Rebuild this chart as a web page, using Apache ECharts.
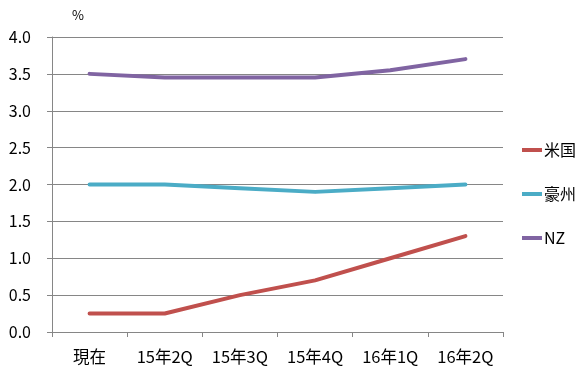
<!DOCTYPE html>
<html><head><meta charset="utf-8">
<script src="https://cdn.jsdelivr.net/npm/echarts@6/dist/echarts.min.js"></script>
<style>html,body{margin:0;padding:0;background:#fff}#c{width:579px;height:369px}</style>
</head><body><div id="c"></div>
<script>
const categories = ['現在','15年2Q','15年3Q','15年4Q','16年1Q','16年2Q'];
const usValues = [0.25, 0.25, 0.5, 0.7, 1.0, 1.3];
const auValues = [2.0, 2.0, 1.95, 1.9, 1.95, 2.0];
const nzValues = [3.5, 3.45, 3.45, 3.45, 3.55, 3.7];
const seriesNames = ['米国','豪州','NZ'];
const colors = ['#C0504D','#4BACC6','#8064A2'];
const FONT = "'Noto Sans CJK JP','Noto Sans',sans-serif";
const chart = echarts.init(document.getElementById('c'), null, {renderer:'canvas'});
const dataSets = [usValues, auValues, nzValues];
chart.setOption({
  animation:false,
  textStyle:{fontFamily:FONT},
  grid:{left:52,right:76,top:37,bottom:37,containLabel:false},
  legend:{
    orient:'vertical', left:517, top:137, icon:'rect', itemWidth:20, itemHeight:4,
    itemGap:28, data:seriesNames,
    textStyle:{fontFamily:FONT,fontSize:16,color:'#000',padding:[0,0,0,-3]}
  },
  graphic:[{type:'text',left:72,top:9,style:{text:'%',fontFamily:FONT,fontSize:13,fill:'#000'}}],
  xAxis:{
    type:'category', data:categories, boundaryGap:true,
    axisLine:{lineStyle:{color:'#868686',width:1}},
    axisTick:{show:true,length:5,lineStyle:{color:'#868686'}},
    axisLabel:{color:'#000',fontSize:16.5,fontFamily:FONT,margin:16,interval:0,hideOverlap:false}
  },
  yAxis:{
    type:'value', min:0, max:4, interval:0.5,
    axisLine:{show:true,lineStyle:{color:'#868686',width:1}},
    axisTick:{show:true,length:5,lineStyle:{color:'#868686'}},
    splitLine:{lineStyle:{color:'#868686',width:1}},
    axisLabel:{color:'#000',fontSize:16,fontFamily:FONT,margin:21,formatter:v=>v.toFixed(1)}
  },
  series: seriesNames.map((n,i)=>({
    name:n, type:'line', data:dataSets[i], symbol:'none', smooth:false,
    lineStyle:{color:colors[i],width:4,cap:'round',join:'round'},
    itemStyle:{color:colors[i]}
  }))
});
</script></body></html>
